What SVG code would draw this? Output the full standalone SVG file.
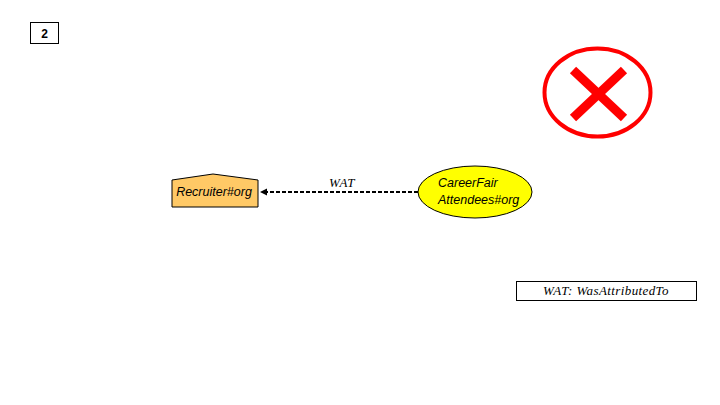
<svg xmlns="http://www.w3.org/2000/svg" width="720" height="405" viewBox="0 0 720 405">
<style>
.lbl{font-family:"Liberation Sans",Arial,sans-serif;font-style:italic;font-size:12.5px;fill:#000}
.math{font-family:"Liberation Serif","DejaVu Serif",serif;font-style:italic;font-size:13px;letter-spacing:0.4px;fill:#000}
</style>
<rect width="720" height="405" fill="#fff"/>
<g id="slide-number">
<rect x="30.5" y="22.5" width="28" height="21" fill="#fff" stroke="#000" stroke-width="1"/>
<text x="44.5" y="38" text-anchor="middle" font-family="'Liberation Sans',Arial,sans-serif" font-weight="bold" font-size="12">2</text>
</g>
<g id="connectors">
<line x1="418" y1="192" x2="266" y2="192" stroke="#000" stroke-width="2" stroke-dasharray="4,2"/>
<path d="M260,192 L267,188.5 L267,195.5 Z" fill="#000"/>
<text x="342" y="187" text-anchor="middle" class="math">WAT</text>
</g>
<g id="recruiter">
<path d="M172,180 L213,174 L258,180 L258,207 L172,207 Z" fill="#ffc966" stroke="#000" stroke-width="1"/>
<text x="214" y="196" text-anchor="middle" class="lbl">Recruiter#org</text>
</g>
<g id="careerfair">
<ellipse cx="475" cy="192" rx="57" ry="26" fill="#ffff00" stroke="#000" stroke-width="1"/>
<text x="438" y="187" class="lbl">CareerFair</text>
<text x="438" y="204" class="lbl">Attendees#org</text>
</g>
<g id="reject">
<ellipse cx="597.5" cy="92.5" rx="53" ry="44" fill="none" stroke="#ff0000" stroke-width="4"/>
<line x1="573" y1="70" x2="624" y2="118" stroke="#ff0000" stroke-width="9"/>
<line x1="624" y1="70" x2="573" y2="118" stroke="#ff0000" stroke-width="9"/>
</g>
<g id="legend">
<rect x="516.5" y="281.5" width="180" height="19" fill="#fff" stroke="#000" stroke-width="1"/>
<text x="606" y="295" text-anchor="middle" class="math">WAT: WasAttributedTo</text>
</g>
</svg>
